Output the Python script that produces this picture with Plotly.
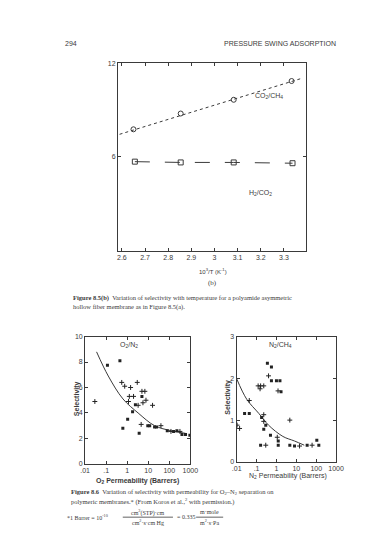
import plotly.graph_objects as go

W, H = 375, 533

# ---------------- data ----------------
# Figure 8.5(b): selectivity vs 1000/T
invT_ticks = [2.6, 2.7, 2.8, 2.9, 3.0, 3.1, 3.2, 3.3]
invT_ticktext = ["2.6", "2.7", "2.8", "2.9", "3", "3.1", "3.2", "3.3"]
co2ch4_x = [2.65, 2.854, 3.083, 3.333]
co2ch4_y = [7.77, 8.78, 9.66, 10.86]
co2ch4_line_x = [2.59, 3.37]
co2ch4_line_y = [7.45, 11.0]
h2co2_x = [2.656, 2.854, 3.083, 3.337]
h2co2_y = [5.7, 5.65, 5.65, 5.6]
top_yticks = [6, 12]

# Figure 8.6 left: O2/N2
o2_sq_x = [0.115, 0.45, 5.0, 2.45, 1.8, 1.05, 0.62, 3.7, 9.5, 11.7, 20, 25, 80, 160, 230, 400, 590, 950]
o2_sq_y = [7.75, 8.1, 5.3, 4.65, 4.1, 3.5, 2.8, 2.4, 3.0, 3.0, 2.9, 2.9, 2.6, 2.55, 2.6, 2.3, 2.3, 2.25]
o2_cr_x = [0.029, 0.55, 0.76, 1.45, 3.0, 5.0, 6.9, 1.26, 2.0, 1.15, 3.3, 5.6, 7.8, 16, 4.6, 40, 120, 320]
o2_cr_y = [4.9, 6.4, 6.1, 6.0, 6.4, 5.7, 5.7, 5.3, 5.3, 4.9, 4.6, 4.8, 5.0, 4.6, 3.1, 3.0, 2.55, 2.55]
o2_fit_x = [0.035, 0.126, 0.63, 3.3, 20, 126, 590]
o2_fit_y = [8.8, 6.9, 5.1, 4.0, 3.0, 2.6, 2.4]

# Figure 8.6 right: N2/CH4
n2_sq_x = [0.35, 0.56, 0.56, 1.0, 1.5, 1.7, 0.043, 0.025, 0.18, 0.29, 0.23, 0.5, 1.23, 0.16, 1.23, 4.7, 8.1, 35, 107, 135]
n2_sq_y = [2.36, 2.27, 1.94, 1.94, 1.94, 1.68, 1.16, 1.16, 1.06, 0.88, 0.78, 0.64, 0.5, 0.4, 0.4, 0.4, 0.38, 0.4, 0.52, 0.4]
n2_cr_x = [0.40, 0.12, 0.16, 0.23, 0.15, 1.2, 0.043, 0.23, 0.23, 1.1, 0.29, 4.7, 14.5, 62, 0.014, 0.0105]
n2_cr_y = [2.06, 1.82, 1.82, 1.82, 1.75, 1.7, 1.47, 1.13, 0.97, 0.59, 0.4, 1.0, 0.38, 0.4, 0.8, 0.88]
n2_fit_x = [0.01, 0.032, 0.13, 0.4, 2.1, 8.1, 25]
n2_fit_y = [1.99, 1.5, 1.16, 0.88, 0.61, 0.5, 0.4]

perm_ticks = [0.01, 0.1, 1, 10, 100, 1000]
perm_ticktext = [".01", ".1", "1", "10", "100", "1000"]
o2_yticks = [0, 2, 4, 6, 8, 10]
n2_yticks = [0, 1, 2, 3]

# ---------------- style ----------------
INK = "#3a3a3a"
SANS = "Liberation Sans"
SERIF = "Liberation Serif"


def px(x):
    return x / W


def py(y):
    return 1 - y / H


fig = go.Figure()

# top chart
fig.add_trace(go.Scatter(x=co2ch4_line_x, y=co2ch4_line_y, mode="lines",
                         line=dict(color=INK, width=1, dash="dot"),
                         xaxis="x", yaxis="y", showlegend=False, hoverinfo="skip"))
fig.add_trace(go.Scatter(x=co2ch4_x, y=co2ch4_y, mode="markers",
                         marker=dict(symbol="circle-open", size=5, color=INK, line=dict(width=1)),
                         xaxis="x", yaxis="y", showlegend=False))
fig.add_trace(go.Scatter(x=h2co2_x, y=h2co2_y, mode="lines+markers",
                         line=dict(color=INK, width=1, dash="longdash"),
                         marker=dict(symbol="square-open", size=5, color=INK, line=dict(width=1)),
                         xaxis="x", yaxis="y", showlegend=False))

# bottom-left
fig.add_trace(go.Scatter(x=o2_fit_x, y=o2_fit_y, mode="lines", line_shape="spline",
                         line=dict(color=INK, width=1), xaxis="x2", yaxis="y2",
                         showlegend=False, hoverinfo="skip"))
fig.add_trace(go.Scatter(x=o2_sq_x, y=o2_sq_y, mode="markers",
                         marker=dict(symbol="square", size=3, color="#222"),
                         xaxis="x2", yaxis="y2", showlegend=False))
fig.add_trace(go.Scatter(x=o2_cr_x, y=o2_cr_y, mode="markers",
                         marker=dict(symbol="cross-thin", size=3.5, color="#222", line=dict(width=1, color="#222")),
                         xaxis="x2", yaxis="y2", showlegend=False))

# bottom-right
fig.add_trace(go.Scatter(x=n2_fit_x, y=n2_fit_y, mode="lines", line_shape="spline",
                         line=dict(color=INK, width=1), xaxis="x3", yaxis="y3",
                         showlegend=False, hoverinfo="skip"))
fig.add_trace(go.Scatter(x=n2_sq_x, y=n2_sq_y, mode="markers",
                         marker=dict(symbol="square", size=3, color="#222"),
                         xaxis="x3", yaxis="y3", showlegend=False))
fig.add_trace(go.Scatter(x=n2_cr_x, y=n2_cr_y, mode="markers",
                         marker=dict(symbol="cross-thin", size=3.5, color="#222", line=dict(width=1, color="#222")),
                         xaxis="x3", yaxis="y3", showlegend=False))

axis_common = dict(showline=True, linecolor=INK, linewidth=1, mirror="ticks",
                   ticks="inside", ticklen=3, tickcolor=INK, showgrid=False,
                   zeroline=False, tickfont=dict(family=SANS, size=7, color=INK))

fig.update_layout(
    width=W, height=H, margin=dict(l=0, r=0, t=0, b=0),
    paper_bgcolor="white", plot_bgcolor="white",
    xaxis=dict(axis_common, domain=[px(117), px(312)], range=[2.583, 3.396],
               tickvals=invT_ticks, ticktext=invT_ticktext, anchor="y"),
    yaxis=dict(axis_common, domain=[py(250), py(60)], range=[0, 12],
               tickvals=top_yticks, anchor="x"),
    xaxis2=dict(axis_common, type="log", domain=[px(83), px(192)], range=[-2, 3],
                tickvals=perm_ticks, ticktext=perm_ticktext, anchor="y2"),
    yaxis2=dict(axis_common, domain=[py(466), py(337)], range=[0, 10],
                tickvals=o2_yticks, anchor="x2"),
    xaxis3=dict(axis_common, type="log", domain=[px(240), px(343)], range=[-2, 3],
                tickvals=perm_ticks, ticktext=perm_ticktext, anchor="y3"),
    yaxis3=dict(axis_common, domain=[py(464), py(337)], range=[0, 3],
                tickvals=n2_yticks, anchor="x3"),
)

ann = []


def note(x, y, text, size=7, xanchor="left", family=SERIF, angle=0, color=INK):
    ann.append(dict(x=px(x), y=py(y), xref="paper", yref="paper", text=text,
                    showarrow=False, xanchor=xanchor, yanchor="middle", textangle=angle,
                    font=dict(family=family, size=size, color=color)))


# header
note(60, 40, "294", size=7, family=SANS)
note(345, 40, "PRESSURE SWING ADSORPTION", size=7, xanchor="right", family=SANS)

# top chart labels
note(273, 93, "CO<sub>2</sub>/CH<sub>4</sub>", size=7, xanchor="center", family=SANS)
note(265, 192, "H<sub>2</sub>/CO<sub>2</sub>", size=7, xanchor="center", family=SANS)
note(215, 271, "10<sup>3</sup>/T (K<sup>-1</sup>)", size=6, xanchor="center", family=SANS)
note(215, 283, "(b)", size=7, xanchor="center")
note(68, 298, "<b>Figure 8.5(b)</b>  Variation of selectivity with temperature for a polyamide asymmetric", size=6.5)
note(68, 307, "hollow fiber membrane as in Figure 8.5(a).", size=6.5)

# bottom charts labels
note(128, 346, "O<sub>2</sub>/N<sub>2</sub>", size=7, xanchor="center", family=SANS)
note(285, 346, "N<sub>2</sub>/CH<sub>4</sub>", size=7, xanchor="center", family=SANS)
note(74, 400, "<b>Selectivity</b>", size=7, xanchor="center", family=SANS, angle=-90)
note(231, 398, "<b>Selectivity</b>", size=7, xanchor="center", family=SANS, angle=-90)
note(137, 483, "<b>O<sub>2</sub> Permeability (Barrers)</b>", size=7, xanchor="center", family=SANS)
note(293, 478, "N<sub>2</sub> Permeability (Barrers)", size=7, xanchor="center", family=SANS)

# figure 8.6 caption
note(66, 495, "<b>Figure 8.6</b>  Variation of selectivity with permeability for O<sub>2</sub>–N<sub>2</sub> separation on", size=6.5)
note(66, 504, "polymeric membranes.* (From Koros et al.,<sup>2</sup> with permission.)", size=6.5)

# footnote with fractions
note(62, 520, "*1 Barrer = 10<sup>-10</sup>", size=6)
note(148, 515, "cm<sup>3</sup>(STP)·cm", size=6, xanchor="center")
note(148, 525, "cm<sup>2</sup>·s·cm Hg", size=6, xanchor="center")
note(176, 520, "= 0.335", size=6)
note(212, 515, "m·mole", size=6, xanchor="center")
note(212, 525, "m<sup>2</sup>·s·Pa", size=6, xanchor="center")

shapes = [
    dict(type="line", xref="paper", yref="paper", x0=px(122), x1=px(174), y0=py(520), y1=py(520),
         line=dict(color=INK, width=0.8)),
    dict(type="line", xref="paper", yref="paper", x0=px(198), x1=px(226), y0=py(520), y1=py(520),
         line=dict(color=INK, width=0.8)),
]

fig.update_layout(annotations=ann, shapes=shapes)

fig.write_html("out.html")
